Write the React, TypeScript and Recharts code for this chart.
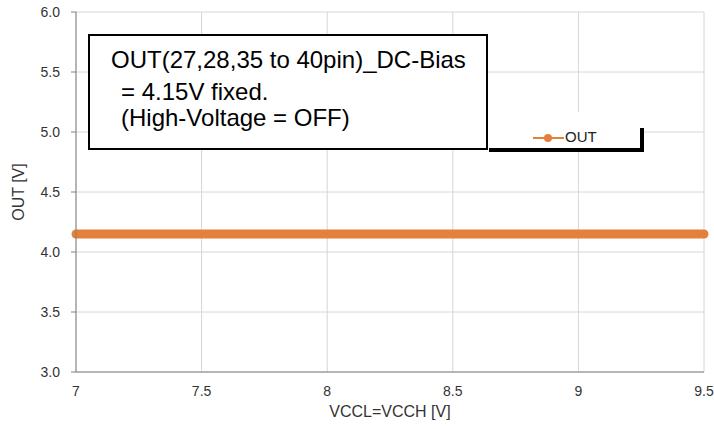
import React from 'react';
import { LineChart, Line, XAxis, YAxis, CartesianGrid } from 'recharts';

const vccValues = [7, 7.5, 8, 8.5, 9, 9.5];
const outValues = [4.15, 4.15, 4.15, 4.15, 4.15, 4.15];
const xTicks = [7, 7.5, 8, 8.5, 9, 9.5];
const yTicks = [3.0, 3.5, 4.0, 4.5, 5.0, 5.5, 6.0];
const seriesName = 'OUT';
const noteLines = ['OUT(27,28,35 to 40pin)_DC-Bias', '= 4.15V fixed.', '(High-Voltage = OFF)'];

const data = vccValues.map((v, i) => ({ x: v, out: outValues[i] }));

const FONT = '"Liberation Sans", Arial, sans-serif';
const ORANGE = '#E4803A';
const TEXT = '#333';

const noteLeft = [111, 121, 121];
const noteTop = [48, 80, 106];

export default function App() {
  return (
    <div style={{ position: 'absolute', left: 0, top: 0, width: 714, height: 429, background: '#fff' }}>
      <LineChart
        width={714}
        height={429}
        data={data}
        margin={{ top: 12, right: 10, bottom: 0, left: 0 }}
        style={{ fontFamily: FONT }}
      >
        <CartesianGrid stroke="#d6d6d6" strokeWidth={1} vertical horizontal />
        <XAxis
          dataKey="x"
          type="number"
          domain={[7, 9.5]}
          ticks={xTicks}
          height={57}
          tickLine={false}
          axisLine={{ stroke: '#808080', strokeWidth: 1 }}
          tick={{ fill: TEXT, fontSize: 14 }}
          tickMargin={8}
          label={{ value: 'VCCL=VCCH [V]', position: 'insideBottom', offset: 12, fill: TEXT, fontSize: 16 }}
        />
        <YAxis
          type="number"
          domain={[3, 6]}
          ticks={yTicks}
          width={76}
          tickSize={5}
          tickLine={{ stroke: '#808080' }}
          axisLine={{ stroke: '#808080', strokeWidth: 1 }}
          tick={{ fill: TEXT, fontSize: 14 }}
          tickMargin={11}
          tickFormatter={(v: number) => v.toFixed(1)}
          label={{ value: 'OUT [V]', angle: -90, position: 'insideLeft', offset: 18, fill: TEXT, fontSize: 16, style: { textAnchor: 'middle' } }}
        />
        <Line
          type="linear"
          dataKey="out"
          name={seriesName}
          stroke={ORANGE}
          strokeWidth={9}
          strokeLinecap="round"
          dot={false}
          activeDot={false}
          isAnimationActive={false}
        />
      </LineChart>
      <div
        style={{
          position: 'absolute',
          left: 488,
          top: 112,
          width: 152,
          height: 36,
          background: '#fff',
          fontFamily: FONT,
          fontSize: 15,
          color: '#222',
        }}
      >
        <svg width={32} height={12} style={{ position: 'absolute', left: 45, top: 20 }}>
          <line x1={0} y1={6} x2={31} y2={6} stroke={ORANGE} strokeWidth={2} />
          <circle cx={15} cy={6} r={4} fill={ORANGE} />
        </svg>
        <span style={{ position: 'absolute', left: 77, top: 16, lineHeight: '18px' }}>{seriesName}</span>
      </div>
      <div style={{ position: 'absolute', left: 489, top: 148, width: 155, height: 4, background: '#000' }} />
      <div style={{ position: 'absolute', left: 640, top: 128, width: 4, height: 24, background: '#000' }} />
      <div
        style={{
          position: 'absolute',
          left: 88,
          top: 34,
          width: 400,
          height: 116,
          border: '2px solid #000',
          background: '#fff',
          boxSizing: 'border-box',
        }}
      />
      {noteLines.map((l, i) => (
        <div
          key={i}
          style={{
            position: 'absolute',
            left: noteLeft[i],
            top: noteTop[i],
            fontFamily: FONT,
            fontSize: 24,
            lineHeight: '24px',
            color: '#000',
            whiteSpace: 'pre',
          }}
        >
          {l}
        </div>
      ))}
    </div>
  );
}
